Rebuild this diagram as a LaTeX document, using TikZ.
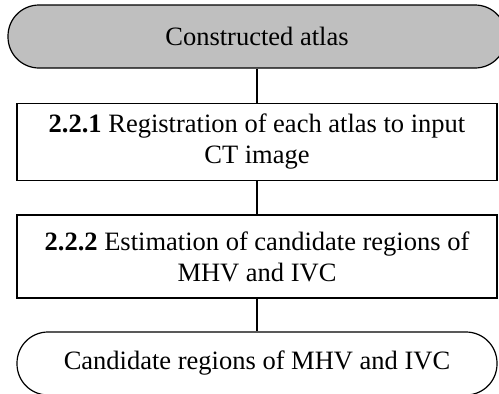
\documentclass[tikz,border=0pt]{standalone}
\usepackage{fontspec}
\setmainfont{Liberation Serif}
\usetikzlibrary{positioning}

\tikzset{
  stepbox/.style={draw, line width=1.2pt, align=center,
    inner sep=0pt, minimum width=480pt},
  endbox/.style={draw, line width=1.2pt, rounded corners=31pt, align=center,
    inner sep=0pt, minimum height=63pt},
  link/.style={line width=1.2pt}
}

\begin{document}
\begin{tikzpicture}[x=1pt, y=-1pt, font=\fontsize{26.5}{31}\selectfont]

    \useasboundingbox (0,0) rectangle (499,394);

    % Begin en eind
    \node[endbox, fill=gray!50, minimum width=498pt] (atlas) at (257,36.5) {Constructed atlas};
    \node[endbox, minimum width=480pt] (cand) at (257,363.5) {Candidate regions of MHV and IVC};

    % Stappen
    \node[stepbox, minimum height=77pt] (reg) at (257,142)
      {\textbf{2.2.1} Registration of each atlas to input\\CT image};
    \node[stepbox, minimum height=83pt] (est) at (257,256.5)
      {\textbf{2.2.2} Estimation of candidate regions of\\MHV and IVC};

    % Verbindingen
    \draw[link] (atlas) -- (reg);
    \draw[link] (reg) -- (est);
    \draw[link] (est) -- (cand);

\end{tikzpicture}
\end{document}
